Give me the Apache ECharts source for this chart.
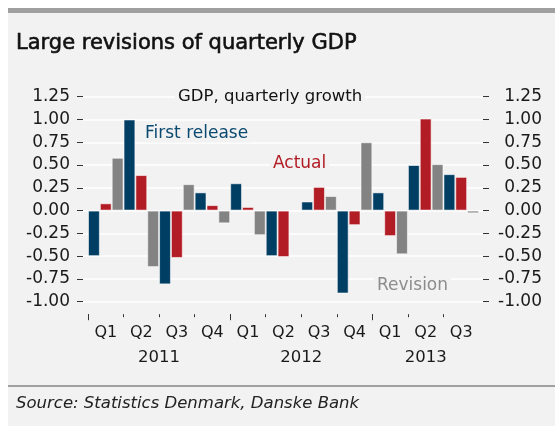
<!DOCTYPE html>
<html>
<head>
<meta charset="utf-8">
<script src="https://cdn.jsdelivr.net/npm/echarts@6/dist/echarts.min.js"></script>
<style>
  html, body { margin: 0; padding: 0; background: #fff; }
  #chart { width: 555px; height: 426px; }
</style>
</head>
<body>
<div id="chart"></div>
<script>
// Quarterly GDP growth, Denmark: first release vs. actual and the revision between them
const quarters = ['Q1', 'Q2', 'Q3', 'Q4', 'Q1', 'Q2', 'Q3', 'Q4', 'Q1', 'Q2', 'Q3'];
const years = ['2011', '2012', '2013'];
const quartersPerYear = [4, 4, 3];
const firstRelease = [-0.5, 1.0, -0.81, 0.2, 0.3, -0.5, 0.1, -0.91, 0.2, 0.5, 0.4];
const actual = [0.08, 0.39, -0.52, 0.06, 0.04, -0.51, 0.26, -0.16, -0.28, 1.01, 0.37];
const revision = [0.58, -0.62, 0.29, -0.14, -0.27, -0.01, 0.16, 0.75, -0.48, 0.51, -0.03];
const yMin = -1, yMax = 1.25, yStep = 0.25;

const FONT = '"DejaVu Sans", sans-serif';
const PANEL = '#f2f2f2';
const BLUE = '#003e64', RED = '#b21c24', GREY = '#838383';

// boundaries of every quarter and of every year, plus year centres
const quarterStarts = quarters.map((_, i) => i);
const yearStarts = [];
const yearCentres = [];
let acc = 0;
quartersPerYear.forEach(n => { yearStarts.push(acc); yearCentres.push(acc + n / 2); acc += n; });

const chart = echarts.init(document.getElementById('chart'));

const fmt = v => v.toFixed(2);

// in-plot caption: a panel-coloured box hides the gridline behind it
const caption = (text, x, y, size, fill) => ({
  type: 'text', x: x, y: y, z: 50,
  style: {
    text: text, font: size + 'px ' + FONT, fill: fill, verticalAlign: 'middle',
    backgroundColor: PANEL, padding: [0, 3, 0, 3]
  }
});

chart.setOption({
  backgroundColor: PANEL,
  animation: false,
  textStyle: { fontFamily: FONT },
  graphic: [
    { type: 'rect', shape: { x: 0, y: 0, width: 8, height: 426 }, style: { fill: '#fff' }, silent: true },
    { type: 'rect', shape: { x: 0, y: 0, width: 555, height: 8 }, style: { fill: '#fff' }, silent: true },
    { type: 'rect', shape: { x: 8, y: 8, width: 547, height: 5 }, style: { fill: '#a0a0a0' }, silent: true },
    { type: 'rect', shape: { x: 8, y: 385, width: 547, height: 2 }, style: { fill: '#a0a0a0' }, silent: true },
    { type: 'text', x: 16, y: 44, style: { text: 'Large revisions of quarterly GDP', font: '21px ' + FONT, fill: '#111', stroke: '#111', lineWidth: 0.6, verticalAlign: 'middle' } },
    caption('GDP, quarterly growth', 175, 97, 16.5, '#111'),
    caption('First release', 142, 134, 17, '#0b4a70'),
    caption('Actual', 270, 164, 17, RED),
    caption('Revision', 374, 286, 17, '#8c8c8c'),
    { type: 'text', x: 16, y: 404, style: { text: 'Source: Statistics Denmark, Danske Bank', font: 'italic 16.5px ' + FONT, fill: '#222', verticalAlign: 'middle' } }
  ],
  grid: [
    { left: 88, right: 76, top: 96.7, bottom: 124.3 },   // bars and x axis
    { left: 83, right: 72, top: 96.7, bottom: 124.3 }    // gridlines and y labels
  ],
  xAxis: [
    {
      type: 'category', gridIndex: 0, position: 'bottom', data: quarters,
      axisLine: { show: false }, axisTick: { show: false },
      axisLabel: { margin: 23, fontSize: 16, color: '#1a1a1a', fontFamily: FONT }
    },
    {
      type: 'value', gridIndex: 0, position: 'bottom', min: 0, max: quarters.length, offset: 12.5,
      axisLine: { show: false }, splitLine: { show: false },
      axisTick: { show: true, length: 3, customValues: quarterStarts, lineStyle: { color: '#333' } },
      axisLabel: { show: false }
    },
    {
      type: 'value', gridIndex: 0, position: 'bottom', min: 0, max: quarters.length, offset: 12.5,
      axisLine: { show: false }, splitLine: { show: false },
      axisTick: { show: true, length: 6, customValues: yearStarts, lineStyle: { color: '#333' } },
      axisLabel: {
        show: true, margin: 35.5, fontSize: 16.5, color: '#1a1a1a', fontFamily: FONT,
        customValues: yearCentres,
        formatter: v => years[yearCentres.indexOf(v)] || ''
      }
    },
    { type: 'value', gridIndex: 1, position: 'bottom', show: false }
  ],
  yAxis: [
    { type: 'value', gridIndex: 0, min: yMin, max: yMax, interval: yStep, show: false },
    {
      type: 'value', gridIndex: 1, position: 'left', min: yMin, max: yMax, interval: yStep,
      axisLine: { show: false },
      axisTick: { show: true, length: 6, lineStyle: { color: '#333' } },
      splitLine: { show: true, lineStyle: { color: '#ffffff', width: 1.5 } },
      axisLabel: { margin: 13, fontSize: 17, color: '#1a1a1a', fontFamily: FONT, formatter: fmt }
    },
    {
      type: 'value', gridIndex: 1, position: 'right', min: yMin, max: yMax, interval: yStep,
      axisLine: { show: false },
      axisTick: { show: true, length: 6, lineStyle: { color: '#333' } },
      splitLine: { show: false },
      axisLabel: { margin: 59, align: 'right', fontSize: 17, color: '#1a1a1a', fontFamily: FONT, formatter: fmt }
    }
  ],
  series: [
    { name: 'First release', type: 'bar', data: firstRelease, color: BLUE },
    { name: 'Actual', type: 'bar', data: actual, color: RED },
    { name: 'Revision', type: 'bar', data: revision, color: GREY }
  ].map(s => Object.assign(s, {
    xAxisIndex: 0, yAxisIndex: 0,
    barGap: '0%', barCategoryGap: '0%',
    itemStyle: { borderColor: 'rgba(255,255,255,0.55)', borderWidth: 1 },
    z: 3
  }))
});
</script>
</body>
</html>
